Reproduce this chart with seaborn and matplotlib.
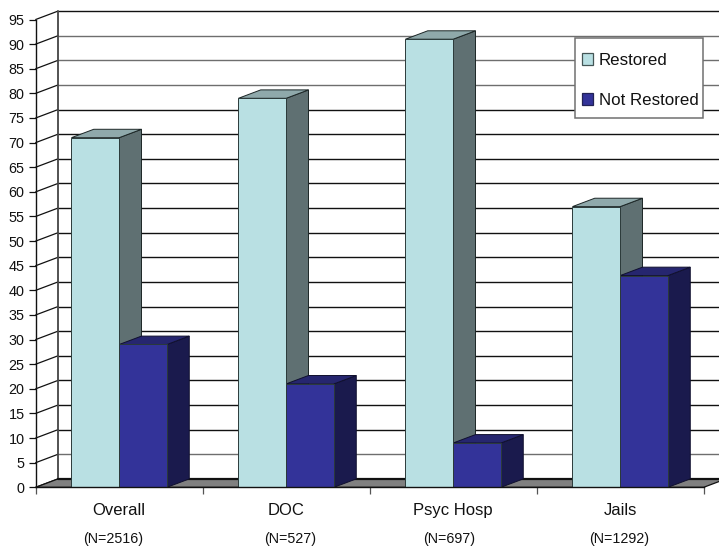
import matplotlib
matplotlib.use("Agg")
import matplotlib.pyplot as plt
import pandas as pd
import seaborn as sns
from matplotlib.colors import to_hex
from matplotlib.patches import Patch, Polygon, Rectangle

categories = ["Overall", "DOC", "Psyc Hosp", "Jails"]
sample_sizes = ["(N=2516)", "(N=527)", "(N=697)", "(N=1292)"]
restored = [71, 79, 91, 57]
not_restored = [29, 21, 9, 43]
y_levels = list(range(0, 100, 5))
faint_levels = [5, 80, 85, 90]

LIGHT, LIGHT_SIDE, LIGHT_TOP = "#B9E0E3", "#5F7072", "#8FA9AB"
DARK, DARK_SIDE, DARK_TOP = "#333399", "#1A1A4D", "#26266F"
FLOOR = "#808080"

sns.set_theme(style="white")
plt.rcParams["font.family"] = ["Liberation Sans", "DejaVu Sans"]

W, H = 719, 548
fig = plt.figure(figsize=(W / 100, H / 100), dpi=100)
left, right, bottom, top = 35.7, 703.7, 487.3, 19.5
ax = fig.add_axes([left / W, 1 - bottom / H, (right - left) / W, (bottom - top) / H])

df = pd.DataFrame({
    "category": categories * 2,
    "value": restored + not_restored,
    "series": ["Restored"] * 4 + ["Not Restored"] * 4,
})
sns.barplot(
    data=df, x="category", y="value", hue="series", ax=ax,
    palette={"Restored": LIGHT, "Not Restored": DARK},
    width=0.572, gap=0, saturation=1, legend=False,
    edgecolor="#2b3a3a", linewidth=0.7, zorder=5,
)
bars = sorted([p for p in ax.patches if isinstance(p, Rectangle)], key=lambda p: p.get_x())

x0, x1 = -0.5, 3.5
y_max = 95
ax.set_xlim(x0, x1)
ax.set_ylim(0, y_max)

# Oblique projection: depth expressed in data units of each axis
dx = 22.3 / ((right - left) / (x1 - x0))
dy = 8.4 / ((bottom - top) / y_max)

# Back wall, side wall and floor
for level in y_levels:
    shade = "#6e6e6e" if level in faint_levels else "#111111"
    ax.plot([x0 + dx, x1 + dx], [level + dy] * 2, color=shade, lw=1.0,
            clip_on=False, zorder=1, solid_capstyle="butt")
    ax.plot([x0, x0 + dx], [level, level + dy], color="#111111", lw=0.9,
            clip_on=False, zorder=1)
ax.plot([x0 + dx] * 2, [dy, y_max + dy], color="#444444", lw=1.3, clip_on=False, zorder=1)
ax.add_patch(Polygon(
    [(x0, 0), (x1, 0), (x1 + dx, dy), (x0 + dx, dy)], closed=True,
    facecolor=FLOOR, edgecolor="#111111", lw=0.9, clip_on=False, zorder=2,
))
ax.plot([x0 + dx, x1 + dx], [dy, dy], color="#111111", lw=1.6, clip_on=False, zorder=2)

# Depth faces of each bar, derived from the bars seaborn placed
for order, bar in enumerate(bars):
    bx, bw, bh = bar.get_x(), bar.get_width(), bar.get_height()
    is_light = to_hex(bar.get_facecolor()).lower() == LIGHT.lower()
    side, cap = (LIGHT_SIDE, LIGHT_TOP) if is_light else (DARK_SIDE, DARK_TOP)
    edge = "#1c2626" if is_light else "#10102e"
    z = 3 + order * 0.01
    ax.add_patch(Polygon(
        [(bx + bw, 0), (bx + bw + dx, dy), (bx + bw + dx, bh + dy), (bx + bw, bh)],
        closed=True, facecolor=side, edgecolor=edge, lw=0.7, clip_on=False, zorder=z,
    ))
    ax.add_patch(Polygon(
        [(bx, bh), (bx + dx, bh + dy), (bx + bw + dx, bh + dy), (bx + bw, bh)],
        closed=True, facecolor=cap, edgecolor=edge, lw=0.7, clip_on=False, zorder=z,
    ))

# Axes
sns.despine(ax=ax, top=True, right=True)
for name in ("left", "bottom"):
    ax.spines[name].set_color("#111111")
    ax.spines[name].set_linewidth(1.0)
    ax.spines[name].set_zorder(6)
ax.set_xlabel("")
ax.set_ylabel("")
ax.set_yticks(y_levels)
ax.tick_params(axis="y", length=5, width=0.9, color="#111111", pad=3,
               labelsize=10.4, labelcolor="#111111", left=True)
ax.set_xticks([-0.5, 0.5, 1.5, 2.5, 3.5])
ax.set_xticklabels([])
ax.tick_params(axis="x", which="major", length=5, width=0.9, color="#555555", bottom=True)
ax.set_xticks(range(len(categories)), minor=True)
ax.set_xticklabels(categories, minor=True)
ax.tick_params(axis="x", which="minor", length=0, pad=11.5, labelsize=12, labelcolor="#111111")

# Sample sizes sit on their own line, each slightly off its category centre
sample_shift_pt = [-4, 3, -3, -1]
trans = ax.get_xaxis_transform()
for i, label in enumerate(sample_sizes):
    ax.annotate(label, xy=(i, 0), xycoords=trans, xytext=(sample_shift_pt[i], -37),
                textcoords="offset points", ha="center", va="center",
                fontsize=10.3, color="#111111", annotation_clip=False)

# Legend: box first, then entries laid over it without a frame of their own
ax.add_patch(Rectangle(
    (574.7 / W, 1 - 117.7 / H), (703 - 574.7) / W, (117.7 - 38) / H,
    transform=fig.transFigure, facecolor="white", edgecolor="#707070", lw=1.1,
    clip_on=False, zorder=9,
))
handles = [
    Patch(facecolor=LIGHT, edgecolor="#445555", lw=0.9, label="Restored"),
    Patch(facecolor=DARK, edgecolor="#222255", lw=0.9, label="Not Restored"),
]
leg = ax.legend(
    handles=handles, loc="upper left",
    bbox_to_anchor=(581.5 / W, 1 - 53 / H), bbox_transform=fig.transFigure,
    prop={"size": 12.2}, frameon=False, labelspacing=1.47, borderpad=0, borderaxespad=0,
    handlelength=0.65, handleheight=0.65, handletextpad=0.36,
)
leg.set_zorder(10)
for text in leg.get_texts():
    text.set_color("#111111")

fig.savefig("out.png", dpi=100, facecolor="white")
